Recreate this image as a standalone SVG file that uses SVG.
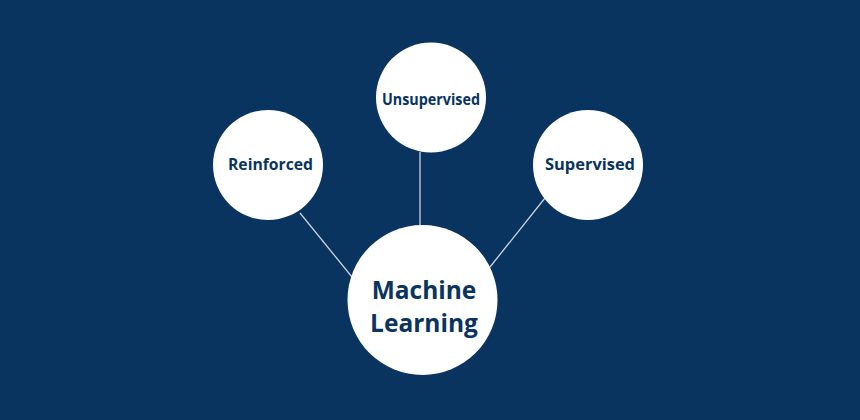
<svg xmlns="http://www.w3.org/2000/svg" width="860" height="420" viewBox="0 0 860 420">
<style>
.node{fill:#ffffff}
.lbl{font-family:"Open Sans","Noto Sans","Liberation Sans",sans-serif;font-weight:700;fill:#0a3460;text-anchor:middle}
.small{font-size:16px}
.big{font-size:24.5px}
.link{stroke:#c9d3de;stroke-width:1.3;fill:none}
</style>
<rect width="860" height="420" fill="#0a3460"/>
<g id="connectors">
<line class="link" x1="300" y1="213" x2="352" y2="277"/>
<line class="link" x1="420" y1="152" x2="420" y2="226"/>
<line class="link" x1="545" y1="198" x2="490" y2="267"/>
</g>
<g id="machine-learning">
<circle class="node" cx="422.5" cy="300" r="75"/>
<text class="lbl big" x="424" y="299">Machine</text>
<text class="lbl big" x="424" y="332">Learning</text>
</g>
<g id="unsupervised">
<circle class="node" cx="431" cy="97.5" r="55"/>
<text class="lbl small" x="431" y="105" textLength="98" lengthAdjust="spacingAndGlyphs">Unsupervised</text>
</g>
<g id="reinforced">
<circle class="node" cx="268" cy="165" r="55"/>
<text class="lbl small" x="270.5" y="170" textLength="85" lengthAdjust="spacingAndGlyphs">Reinforced</text>
</g>
<g id="supervised">
<circle class="node" cx="588" cy="165" r="55"/>
<text class="lbl small" x="590" y="170" textLength="90" lengthAdjust="spacingAndGlyphs">Supervised</text>
</g>
</svg>
